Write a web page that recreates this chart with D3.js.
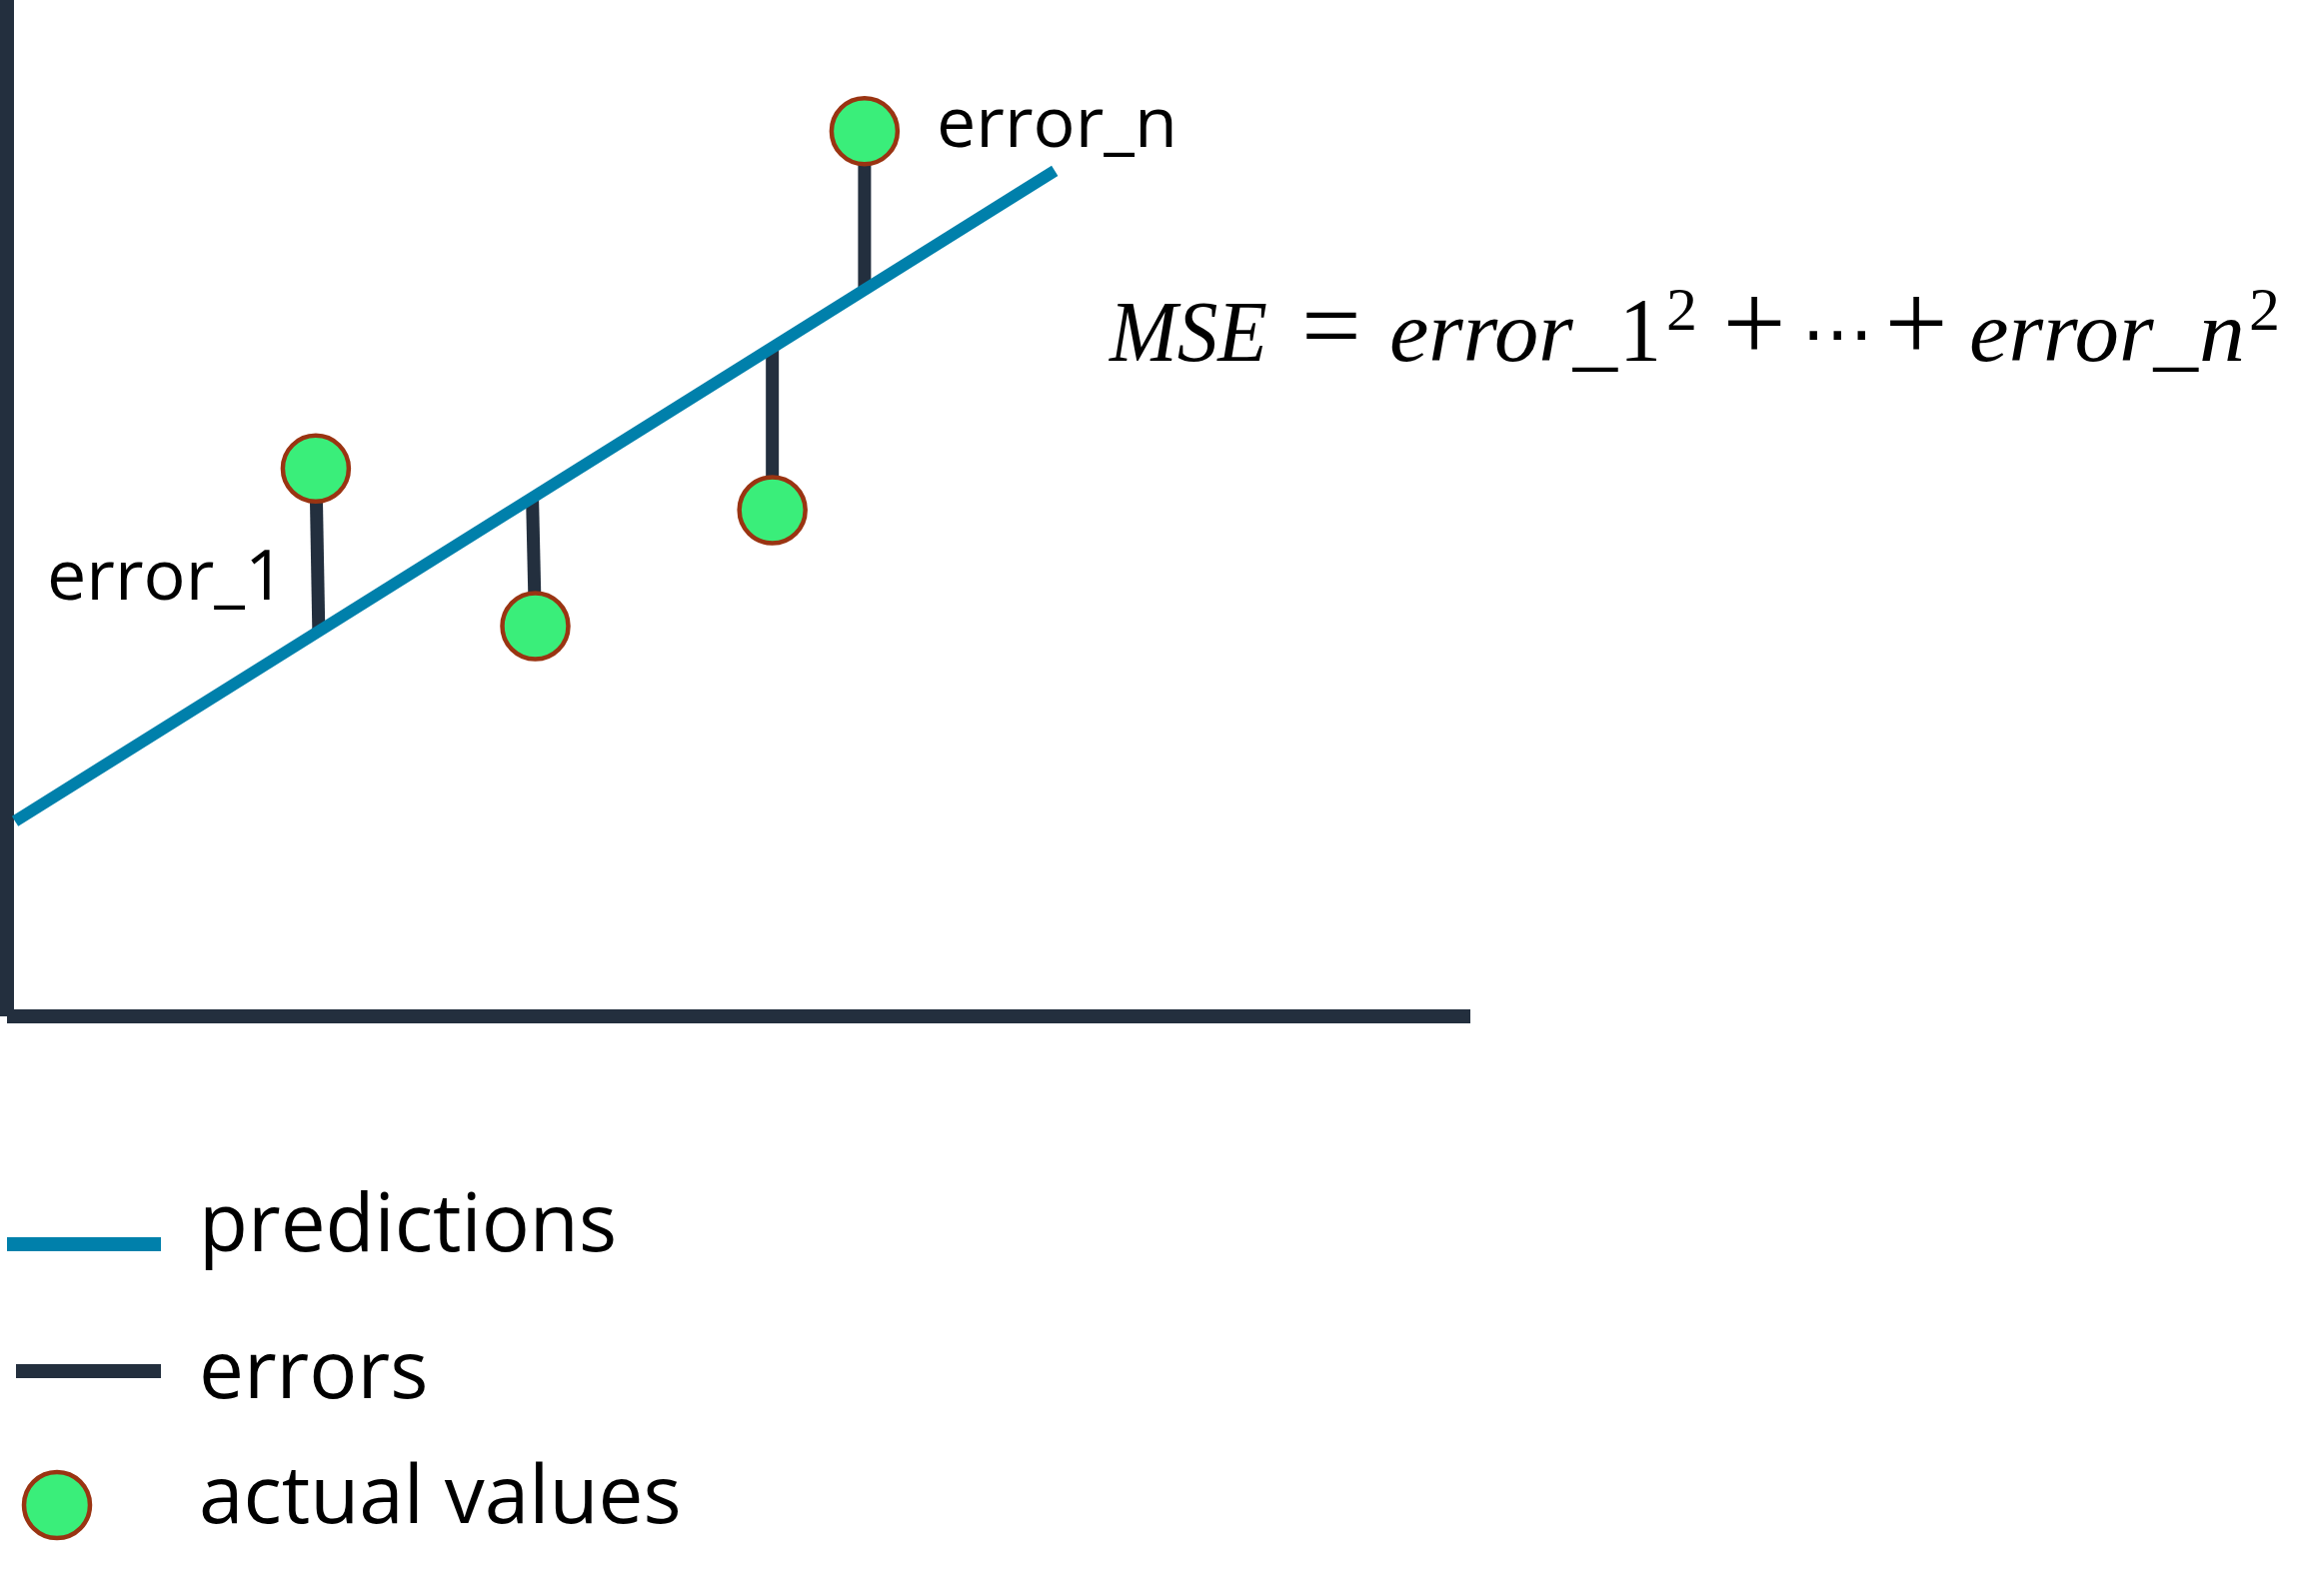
<!DOCTYPE html>
<html>
<head>
<meta charset="utf-8">
<script src="https://cdn.jsdelivr.net/npm/d3@7"></script>
<style>
  html, body { margin: 0; padding: 0; background: #ffffff; }
  svg { display: block; }
</style>
</head>
<body>
<script>
// ---------- data ----------
const actualX = [2.11, 3.61, 5.23, 5.86];          // actual values (x)
const actualY = [5.39, 3.84, 4.98, 8.71];          // actual values (y)
const errorPredX = [2.13, 3.59, 5.23, 5.86];       // where each error meets the prediction line
const predLineX = [0.055, 7.16];                   // prediction line end points (x)
const predLineY = [1.92, 8.32];                    // prediction line end points (y)
const pointLabels = ["error_1", "error_n"];
const legendLabels = ["predictions", "errors", "actual values"];

// ---------- setup ----------
const W = 2302, H = 1597;
const C = { axis: "#232f3e", pred: "#0080ab", dot: "#3aee7a", dotStroke: "#9a3412", text: "#000000" };
const sans = "'Open Sans', 'Noto Sans', sans-serif";
const serif = "'Liberation Serif', 'DejaVu Serif', serif";

const svg = d3.select("body").append("svg").attr("width", W).attr("height", H);

const x = d3.scaleLinear().domain([0, 10]).range([7, 1471]);
const y = d3.scaleLinear().domain([0, 10]).range([1017, 0]);

const predY = d => predLineY[0] + (predLineY[1] - predLineY[0]) * (d - predLineX[0]) / (predLineX[1] - predLineX[0]);

// ---------- axes ----------
const yAxis = svg.append("g").attr("transform", `translate(${x(0)},0)`)
  .call(d3.axisLeft(y).tickValues([]).tickSizeOuter(0).offset(0));
const xAxis = svg.append("g").attr("transform", `translate(0,${y(0)})`)
  .call(d3.axisBottom(x).tickValues([]).tickSizeOuter(0).offset(0));
[yAxis, xAxis].forEach(g => g.select(".domain")
  .attr("stroke", C.axis).attr("stroke-width", 14).attr("stroke-linecap", "butt"));

// ---------- errors ----------
svg.append("g").selectAll("line").data(actualX).join("line")
  .attr("x1", (d, i) => x(d)).attr("y1", (d, i) => y(actualY[i]))
  .attr("x2", (d, i) => x(errorPredX[i])).attr("y2", (d, i) => y(predY(errorPredX[i])))
  .attr("stroke", C.axis).attr("stroke-width", 13).attr("stroke-linecap", "butt");

// ---------- predictions ----------
svg.append("path")
  .datum(predLineX.map((d, i) => [d, predLineY[i]]))
  .attr("d", d3.line().x(d => x(d[0])).y(d => y(d[1])))
  .attr("fill", "none").attr("stroke", C.pred).attr("stroke-width", 12).attr("stroke-linecap", "butt");

// ---------- actual values ----------
svg.append("g").selectAll("circle").data(actualX).join("circle")
  .attr("cx", d => x(d)).attr("cy", (d, i) => y(actualY[i])).attr("r", 33)
  .attr("fill", C.dot).attr("stroke", C.dotStroke).attr("stroke-width", 4.5);

// ---------- point labels ----------
const labelPos = [[47, 600], [937, 147]];
svg.append("g").selectAll("text").data(pointLabels).join("text")
  .attr("x", (d, i) => labelPos[i][0]).attr("y", (d, i) => labelPos[i][1])
  .attr("font-family", sans).attr("font-size", 70).attr("fill", C.text)
  .text(d => d);

// ---------- formula ----------
const fBase = 361, supBase = 330;
const f = svg.append("g").attr("font-family", serif).attr("fill", C.text);
function ft(str, xx, opts) {
  const t = f.append("text").attr("x", xx).attr("y", opts.y || fBase)
    .attr("font-size", opts.size || 86)
    .attr("font-style", opts.italic ? "italic" : "normal")
    .attr("text-anchor", opts.anchor || "start")
    .text(str);
  if (opts.len) t.attr("textLength", opts.len).attr("lengthAdjust", "spacingAndGlyphs");
  if (opts.family) t.attr("font-family", opts.family);
  return t;
}
ft("MSE", 1110, { italic: true, len: 158 });
ft("=", 1332, { anchor: "middle", size: 106 });
ft("error_", 1390, { italic: true, len: 228 });
ft("1", 1620, { len: 42, size: 90 });
ft("2", 1667, { y: supBase, size: 62 });
ft("+", 1755, { anchor: "middle", size: 112 });
ft("\u22EF", 1838, { anchor: "middle", size: 72, family: "'DejaVu Sans', sans-serif", y: 358 });
ft("+", 1917, { anchor: "middle", size: 112 });
ft("error_", 1970, { italic: true, len: 229 });
ft("n", 2200, { italic: true, len: 46 });
ft("2", 2250, { y: supBase, size: 62 });

// ---------- legend ----------
const lg = svg.append("g");
const legendY = [1245, 1372, 1506];
const legendTextY = [1252, 1399, 1524];
lg.append("line").attr("x1", 7).attr("x2", 161).attr("y1", legendY[0]).attr("y2", legendY[0])
  .attr("stroke", C.pred).attr("stroke-width", 14);
lg.append("line").attr("x1", 16).attr("x2", 161).attr("y1", legendY[1]).attr("y2", legendY[1])
  .attr("stroke", C.axis).attr("stroke-width", 14);
lg.append("circle").attr("cx", 57).attr("cy", legendY[2]).attr("r", 33)
  .attr("fill", C.dot).attr("stroke", C.dotStroke).attr("stroke-width", 4.5);
lg.selectAll("text").data(legendLabels).join("text")
  .attr("x", 199).attr("y", (d, i) => legendTextY[i])
  .attr("font-family", sans).attr("font-size", 80).attr("fill", C.text)
  .text(d => d);
</script>
</body>
</html>
